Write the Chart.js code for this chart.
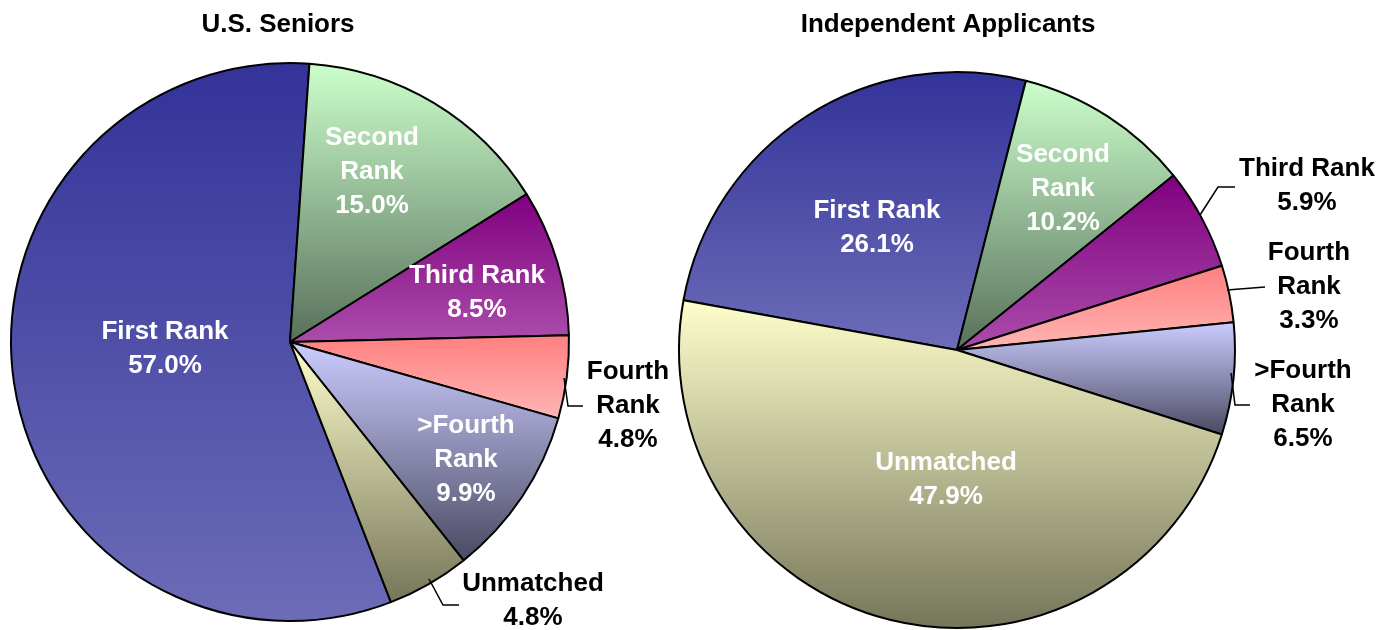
<!DOCTYPE html>
<html>
<head>
<meta charset="utf-8">
<script src="https://cdn.jsdelivr.net/npm/chart.js@4.4.1/dist/chart.umd.min.js"></script>
<style>
  html, body { margin: 0; padding: 0; background: #fff; width: 1381px; height: 630px; overflow: hidden; }
  .box { position: absolute; top: 0; height: 630px; }
  #boxL { left: 0; width: 700px; }
  #boxR { left: 660px; width: 721px; }
</style>
</head>
<body>
<div class="box" id="boxL"><canvas id="seniors"></canvas></div>
<div class="box" id="boxR"><canvas id="independent"></canvas></div>
<script>
// data
const categories = ['First Rank', 'Second Rank', 'Third Rank', 'Fourth Rank', '>Fourth Rank', 'Unmatched'];
const seniorsValues = [57.0, 15.0, 8.5, 4.8, 9.9, 4.8];
const independentValues = [26.1, 10.2, 5.9, 3.3, 6.5, 47.9];
const chartTitles = ['U.S. Seniors', 'Independent Applicants'];

// two-colour vertical fills, like the old Excel gradients
const topColors = ['#333399', '#ccffcc', '#800080', '#ff8080', '#ccccff', '#ffffcc'];
const bottomColors = ['#6c6cb8', '#58705a', '#ab4dab', '#ffb5b5', '#4a4a62', '#75755a'];

const FONT = '"Liberation Sans", Arial, sans-serif';

// label placement, px from the pie centre (text block centre + optional leader line)
const seniorsLabels = [
    { at: [-125, 7], wrap: false, inside: true },
    { at: [82, -170], wrap: true, inside: true },
    { at: [187, -49], wrap: false, inside: true },
    { at: [338, 64], wrap: true, inside: false, leader: [[274, 36], [278, 64], [293, 64]] },
    { at: [176, 118], wrap: true, inside: true },
    { at: [243, 259], wrap: false, inside: false, leader: [[139, 237], [153, 263], [169, 263]] }
];
const independentLabels = [
    { at: [-80, -122], wrap: false, inside: true },
    { at: [106, -161], wrap: true, inside: true },
    { at: [350, -164], wrap: false, inside: false, leader: [[243, -135], [261, -163], [278, -163]] },
    { at: [352, -63], wrap: true, inside: false, leader: [[270, -60], [308, -63]] },
    { at: [346, 55], wrap: true, inside: false, leader: [[274, 23], [278, 55], [293, 55]] },
    { at: [-11, 130], wrap: false, inside: true }
];

function sliceFill(values, rotation, radius) {
    const total = values.reduce((a, b) => a + b, 0);
    return (ctx) => {
        const i = ctx.dataIndex;
        const area = ctx.chart.chartArea;
        if (i === undefined) return '#888';
        if (!area) return topColors[i];
        const before = values.slice(0, i).reduce((a, b) => a + b, 0);
        const a0 = -Math.PI / 2 + rotation * Math.PI / 180 + before / total * 2 * Math.PI;
        const a1 = a0 + values[i] / total * 2 * Math.PI;
        const cy = (area.top + area.bottom) / 2;
        const ys = [cy, cy + radius * Math.sin(a0), cy + radius * Math.sin(a1)];
        for (let n = -4; n <= 8; n++) {
            const a = Math.PI / 2 + n * Math.PI;
            if (a >= a0 && a <= a1) ys.push(cy + radius * Math.sin(a));
        }
        const g = ctx.chart.ctx.createLinearGradient(0, Math.min(...ys), 0, Math.max(...ys));
        g.addColorStop(0, topColors[i]);
        g.addColorStop(1, bottomColors[i]);
        return g;
    };
}

const labelPlugin = {
    id: 'sliceLabels',
    afterDatasetsDraw(chart, args, opts) {
        const c = chart.ctx;
        const meta = chart.getDatasetMeta(0);
        const cx = meta.data[0].x, cy = meta.data[0].y;
        const values = chart.data.datasets[0].data;
        c.save();
        // title
        c.fillStyle = '#000';
        c.font = 'bold 26px ' + FONT;
        c.textAlign = 'center';
        c.textBaseline = 'middle';
        c.fillText(opts.title, cx + opts.titleAt[0], cy + opts.titleAt[1]);

        c.font = 'bold 26px ' + FONT;
        opts.layout.forEach((lab, i) => {
            const name = chart.data.labels[i];
            const lines = lab.wrap ? name.split(' ') : [name];
            lines.push(values[i].toFixed(1) + '%');
            c.fillStyle = lab.inside ? '#fff' : '#000';
            const y0 = cy + lab.at[1] - (lines.length - 1) * 17;
            lines.forEach((t, k) => c.fillText(t, cx + lab.at[0], y0 + k * 34));
            if (lab.leader) {
                c.strokeStyle = '#000';
                c.lineWidth = 1.5;
                c.beginPath();
                lab.leader.forEach((p, k) => {
                    if (k === 0) c.moveTo(cx + p[0], cy + p[1]);
                    else c.lineTo(cx + p[0], cy + p[1]);
                });
                c.stroke();
            }
        });
        c.restore();
    }
};

function makePie(id, values, rotation, radius, padding, title, titleAt, layout) {
    new Chart(document.getElementById(id), {
        type: 'pie',
        data: {
            labels: categories,
            datasets: [{
                data: values,
                backgroundColor: sliceFill(values, rotation, radius),
                borderColor: '#000',
                borderWidth: 2
            }]
        },
        options: {
            responsive: true,
            maintainAspectRatio: false,
            devicePixelRatio: 1,
            animation: false,
            rotation: rotation,
            radius: radius,
            layout: { padding: padding },
            plugins: {
                legend: { display: false },
                tooltip: { enabled: false },
                sliceLabels: { title: title, titleAt: titleAt, layout: layout }
            }
        },
        plugins: [labelPlugin]
    });
}

makePie('seniors', seniorsValues, 158.8, 279,
    { left: 0, right: 120, top: 54, bottom: 0 }, chartTitles[0], [-12, -317], seniorsLabels);
makePie('independent', independentValues, 280.3, 278,
    { left: 0, right: 127, top: 70, bottom: 0 }, chartTitles[1], [-9, -325], independentLabels);
</script>
</body>
</html>
